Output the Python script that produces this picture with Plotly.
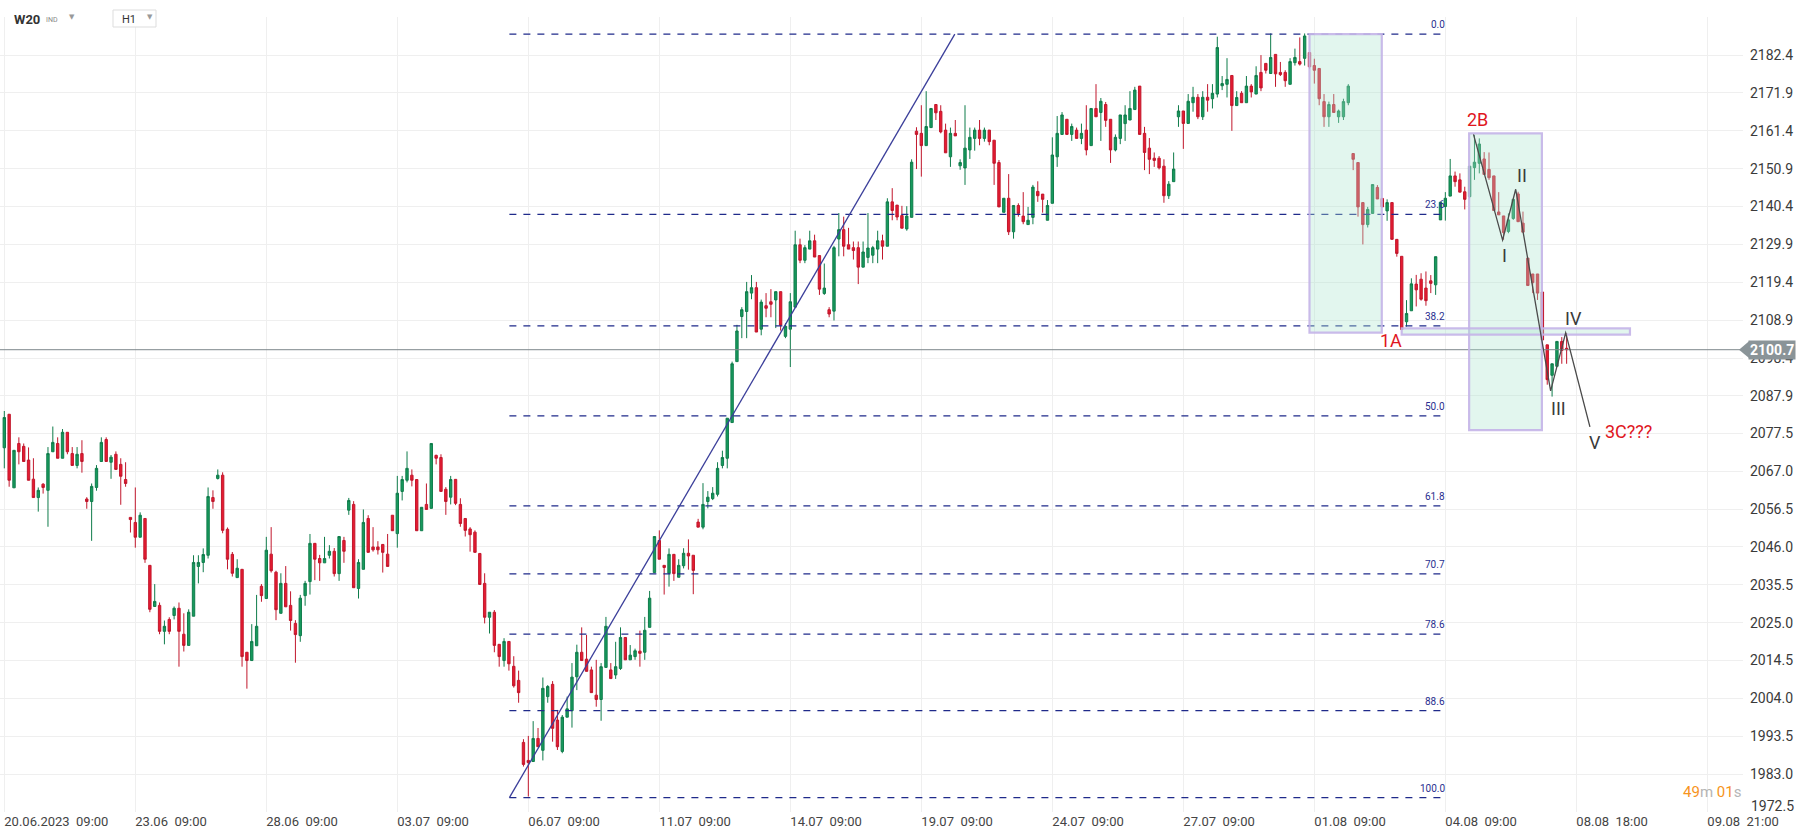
import plotly.graph_objects as go

# ---------------- data ----------------
opens = [
2073.5,2082.8,2062.4,2074.7,2073.9,2070.1,2064.8,2059.7,2063.4,2061.7,2072.4,2074.7,2070.6,2077.8,2071.9,2068.6,2071.9,
2059.3,2058.6,2062.5,2069.7,2075.8,2069.5,2071.7,2068.9,2064.7,2054.2,2052.8,2048.7,2053.9,2040.9,2029.5,2029.8,2022.6,
2025.9,2027.0,2029.0,2021.8,2018.7,2026.8,2040.6,2041.7,2043.7,2059.7,2065.0,2065.9,2050.9,2043.95,2037.5,2039.8,2016.8,
2014.5,2018.6,2035.1,2031.7,2044.0,2039.0,2027.6,2035.9,2029.8,2024.8,2021.4,2032.5,2036.4,2047.0,2042.8,2041.6,2043.7,
2044.8,2038.6,2047.8,2056.2,2057.8,2034.5,2039.8,2053.9,2046.0,2046.0,2046.7,2044.0,2054.8,2049.7,2061.4,2064.5,2065.9,
2064.7,2050.5,2057.8,2056.7,2071.4,2070.8,2062.0,2059.8,2064.75,2057.8,2053.9,2051.0,2050.1,2044.2,2035.9,2026.5,2027.9,
2019.0,2014.5,2019.8,2012.9,2009.0,1991.8,1986.8,1986.5,1992.9,1989.6,2004.5,2007.9,1998.0,1989.3,1998.8,2000.6,2010.0,
2016.8,2014.9,2011.9,2004.9,2003.7,2012.6,2011.9,2010.5,2012.3,2020.9,2014.7,2015.6,2017.1,2016.8,2023.7,2038.9,2047.8,
2040.9,2038.7,2043.95,2037.6,2040.8,2044.25,2043.7,2052.9,2051.5,2058.6,2059.4,2060.6,2068.6,2070.6,2080.5,2097.4,2109.9,
2111.3,2116.4,2117.9,2106.4,2112.9,2114.0,2114.5,2116.8,2104.4,2106.4,2112.5,2129.8,2125.5,2128.6,2130.9,2126.8,2116.3,
2111.8,2111.4,2131.4,2134.0,2129.8,2129.0,2129.0,2123.6,2126.3,2126.9,2128.6,2130.9,2129.4,2141.7,2140.8,2137.9,2134.2,
2137.4,2161.3,2160.7,2157.3,2162.3,2168.7,2166.8,2161.6,2154.2,2160.7,2151.7,2151.1,2156.1,2159.3,2161.6,2159.3,2161.6,
2158.8,2152.6,2138.8,2142.7,2133.4,2140.7,2137.75,2135.4,2137.4,2144.6,2143.85,2136.6,2141.3,2154.2,2160.4,2164.6,2160.4,
2161.6,2159.3,2161.6,2157.3,2167.6,2166.5,2168.7,2164.6,2156.1,2159.3,2163.4,2164.4,2167.3,2173.8,2160.7,2156.6,2153.8,
2153.8,2151.6,2143.4,2147.3,2165.3,2166.9,2163.45,2169.2,2170.7,2165.3,2170.7,2170.3,2171.6,2173.9,2174.3,2176.75,2168.4,
2171.8,2169.2,2173.8,2171.6,2177.6,2180.1,2177.3,2182.6,2177.6,2177.6,2174.3,2180.3,2180.6,2181.5,2183.1,2179.5,2178.7,
2169.5,2165.3,2168.7,2165.3,2165.3,2169.2,2155.1,2152.6,2141.5,2135.4,2138.5,2145.7,2142.65,2139.2,2141.5,2131.3,2126.6,
2108.45,2111.5,2118.9,2120.25,2117.8,2119.8,2118.7,2136.7,2140.4,2143.3,2148.9,2147.8,2144.5,2143.15,2151.2,2152.4,2153.6,
2150.7,2148.9,2138.9,2137.8,2133.5,2137.1,2143.9,2135.8,2126.1,2121.7,2121.7,2116.7,2102.05,2093.6,2096.1,2103.0,2101.1]
highs = [
2083.7,2082.8,2072.8,2076.4,2074.7,2073.6,2070.6,2062.5,2063.7,2073.7,2079.4,2076.4,2078.7,2077.8,2073.7,2073.7,2075.6,
2059.8,2063.6,2068.7,2076.4,2076.4,2071.5,2072.5,2070.6,2069.5,2054.2,2062.5,2055.6,2053.9,2040.9,2035.7,2030.6,2025.6,
2026.5,2029.5,2030.6,2027.6,2028.7,2043.7,2043.7,2045.6,2062.5,2061.7,2067.5,2066.7,2051.4,2044.6,2042.6,2039.8,2016.8,
2024.6,2032.7,2035.7,2048.8,2051.5,2039.4,2038.7,2040.7,2033.7,2025.7,2032.7,2036.6,2049.6,2047.0,2043.8,2048.8,2046.5,
2045.7,2048.9,2048.8,2059.6,2058.7,2042.6,2056.4,2054.8,2051.5,2047.6,2046.7,2049.6,2054.8,2065.7,2065.7,2072.5,2067.5,
2064.7,2057.0,2063.6,2074.7,2071.6,2071.7,2062.6,2065.7,2064.75,2059.5,2053.9,2051.5,2050.6,2044.2,2038.7,2027.9,2028.5,
2019.0,2020.7,2019.8,2015.7,2011.7,1992.7,1993.6,1997.7,1995.8,2009.8,2007.7,2008.8,2000.8,1999.4,2004.5,2013.8,2018.9,
2023.7,2021.6,2012.8,2014.7,2013.8,2026.6,2013.8,2019.7,2023.7,2020.9,2018.8,2017.8,2022.8,2026.6,2033.8,2048.9,2050.6,
2040.9,2045.6,2043.95,2042.6,2045.65,2048.1,2043.7,2053.8,2063.7,2061.5,2062.6,2069.5,2072.7,2081.7,2097.4,2107.6,2112.5,
2119.5,2121.4,2119.5,2114.6,2116.4,2117.5,2116.8,2116.8,2108.1,2116.4,2133.7,2131.5,2129.7,2133.7,2132.6,2126.8,2124.6,
2112.5,2129.5,2138.6,2137.6,2134.5,2130.7,2130.7,2130.7,2138.6,2129.5,2133.7,2132.6,2142.7,2145.5,2140.8,2140.6,2140.5,
2153.5,2162.4,2168.5,2172.4,2167.6,2168.7,2168.5,2163.4,2162.3,2164.4,2153.5,2168.5,2162.3,2162.3,2164.4,2162.3,2161.6,
2158.8,2153.3,2142.7,2149.4,2140.7,2141.3,2144.4,2140.3,2146.4,2147.4,2143.85,2142.2,2159.6,2165.5,2166.6,2164.6,2163.4,
2162.3,2163.4,2168.5,2167.6,2174.35,2170.5,2169.4,2164.6,2160.4,2165.8,2168.5,2172.4,2173.6,2173.8,2162.5,2159.4,2155.4,
2154.4,2153.5,2147.45,2155.4,2168.5,2166.9,2171.6,2173.6,2171.6,2172.4,2174.35,2174.35,2187.5,2176.6,2181.55,2176.75,2172.4,
2172.4,2176.6,2174.35,2179.3,2182.4,2180.1,2188.4,2182.6,2180.5,2178.2,2181.55,2184.2,2187.3,2188.4,2183.1,2181.4,2178.7,
2171.6,2169.5,2171.6,2167.3,2170.3,2174.35,2155.1,2152.6,2141.5,2140.3,2146.5,2146.35,2142.65,2142.4,2141.5,2131.3,2126.6,
2114.45,2120.5,2121.45,2121.9,2122.4,2121.4,2126.5,2141.6,2144.4,2153.6,2150.1,2149.6,2145.9,2151.6,2160.2,2159.3,2155.5,
2155.4,2148.9,2144.4,2137.8,2138.5,2142.4,2144.5,2139.0,2126.1,2121.7,2121.7,2116.7,2102.05,2096.8,2103.0,2104.2,2105.3]
lows = [
2067.8,2062.7,2062.4,2068.9,2069.7,2064.5,2059.7,2055.8,2060.8,2051.6,2072.4,2070.6,2070.6,2071.7,2068.6,2067.8,2066.6,
2056.6,2047.7,2061.6,2069.7,2069.7,2064.9,2067.5,2057.7,2062.7,2050.0,2045.8,2048.7,2041.6,2027.9,2029.5,2021.8,2019.0,
2021.8,2025.9,2012.8,2017.0,2018.7,2026.8,2035.9,2039.0,2042.8,2056.6,2064.7,2049.8,2039.8,2037.8,2037.5,2012.8,2006.7,
2014.5,2018.6,2030.8,2031.7,2038.9,2025.7,2027.6,2029.4,2022.8,2013.9,2019.7,2029.7,2032.8,2036.8,2036.6,2041.6,2042.8,
2037.8,2036.6,2041.6,2054.9,2034.7,2031.7,2039.8,2044.5,2044.7,2043.9,2038.9,2040.6,2050.5,2045.8,2058.9,2063.9,2062.8,
2050.5,2050.5,2056.4,2056.7,2068.9,2061.4,2054.9,2057.8,2057.6,2051.6,2048.9,2044.7,2044.5,2035.6,2024.8,2022.0,2016.8,
2012.8,2012.8,2011.7,2007.0,2002.8,1985.1,1976.8,1986.5,1990.6,1986.8,2002.8,1992.0,1989.7,1988.8,1998.8,1995.9,2006.3,
2014.5,2011.5,2005.6,2001.7,1997.8,2012.6,2009.5,2009.4,2011.9,2014.7,2014.7,2014.7,2012.8,2014.7,2023.7,2038.9,2042.6,
2032.8,2035.0,2036.6,2037.6,2040.05,2039.7,2032.9,2051.5,2050.9,2056.7,2059.0,2060.0,2067.8,2067.8,2080.5,2097.4,2103.9,
2103.9,2114.7,2105.6,2104.7,2109.7,2109.7,2106.7,2106.0,2103.9,2095.9,2112.5,2124.7,2124.7,2128.6,2126.4,2115.9,2115.9,
2109.7,2108.8,2126.6,2126.6,2128.6,2125.7,2118.9,2123.6,2124.7,2124.7,2124.7,2125.7,2129.4,2136.6,2136.6,2134.4,2133.7,
2137.4,2150.8,2148.7,2157.3,2162.3,2164.4,2160.7,2155.3,2151.4,2160.0,2150.6,2146.4,2153.6,2155.9,2157.4,2158.4,2157.4,
2146.4,2140.3,2138.8,2132.5,2131.5,2137.6,2135.5,2135.4,2135.5,2141.7,2138.7,2136.6,2141.3,2151.4,2160.4,2160.4,2158.6,
2159.3,2157.7,2154.6,2157.3,2165.3,2158.6,2162.5,2152.5,2155.7,2157.7,2158.6,2164.4,2167.3,2160.4,2150.5,2149.4,2151.4,
2150.7,2141.45,2142.5,2147.3,2162.5,2156.4,2163.45,2166.7,2164.65,2164.4,2166.7,2167.6,2170.65,2172.7,2170.65,2161.4,2168.4,
2169.2,2169.2,2170.65,2171.6,2172.4,2177.3,2177.3,2173.6,2176.6,2173.6,2174.3,2179.5,2179.5,2179.5,2178.6,2174.5,2168.5,
2162.5,2162.5,2166.5,2163.6,2164.4,2168.5,2150.5,2137.6,2129.9,2134.6,2138.5,2142.5,2140.3,2136.45,2131.3,2126.5,2106.3,
2107.1,2111.5,2112.7,2114.3,2112.9,2116.4,2115.9,2136.7,2136.5,2143.3,2145.9,2144.4,2139.6,2142.7,2147.8,2149.6,2149.3,
2147.8,2139.3,2138.1,2131.2,2133.0,2136.7,2136.2,2133.3,2118.5,2116.4,2114.5,2103.4,2091.0,2087.7,2096.1,2096.8,2096.8]
closes = [
2081.9,2064.5,2072.8,2072.4,2069.7,2064.5,2059.7,2061.7,2062.5,2071.9,2075.0,2070.6,2077.8,2072.4,2068.6,2071.7,2069.7,
2058.6,2062.8,2067.8,2075.0,2069.7,2070.9,2067.5,2065.6,2063.6,2053.6,2048.7,2054.8,2042.6,2028.7,2030.9,2022.6,2024.0,
2022.6,2029.0,2022.6,2018.7,2027.9,2041.7,2041.7,2043.9,2060.0,2058.6,2065.9,2050.6,2042.6,2038.7,2040.1,2015.6,2014.5,
2019.8,2024.0,2032.5,2045.1,2039.4,2028.6,2035.9,2029.4,2025.6,2021.7,2031.8,2035.9,2047.0,2042.6,2041.6,2042.8,2044.8,
2038.6,2048.9,2044.8,2058.9,2034.7,2041.7,2052.8,2044.5,2045.2,2045.2,2044.5,2040.6,2050.5,2060.9,2064.7,2067.8,2064.5,
2050.5,2057.0,2056.4,2074.7,2070.6,2061.4,2058.6,2064.7,2058.1,2052.5,2050.6,2049.4,2044.5,2035.6,2026.5,2027.9,2018.7,
2015.6,2019.8,2013.6,2007.5,2005.6,1985.7,1986.2,1992.9,1990.6,2006.8,2007.3,1995.7,1990.6,1998.8,2001.1,2009.9,2016.8,
2014.5,2011.5,2005.6,2003.7,2012.8,2024.0,2009.5,2012.8,2020.9,2014.7,2016.0,2017.2,2016.5,2022.9,2031.8,2048.9,2042.6,
2040.3,2043.95,2038.6,2040.9,2044.25,2043.5,2039.5,2051.5,2057.8,2059.8,2060.9,2067.8,2070.8,2081.7,2096.8,2105.9,2111.8,
2116.8,2117.9,2105.6,2113.9,2112.2,2113.3,2116.8,2107.5,2107.2,2114.0,2129.8,2125.5,2129.0,2130.9,2126.4,2117.5,2117.8,
2110.6,2129.0,2134.0,2129.4,2128.6,2128.2,2123.6,2127.8,2128.9,2129.0,2130.9,2129.4,2141.7,2139.3,2137.5,2134.4,2137.75,
2152.7,2160.4,2157.3,2162.6,2167.6,2166.4,2161.1,2155.3,2160.7,2160.0,2152.6,2156.6,2159.6,2161.6,2159.3,2161.6,2158.4,
2152.4,2140.3,2142.7,2133.4,2140.7,2138.5,2136.2,2136.6,2145.8,2143.4,2142.4,2140.7,2154.7,2160.7,2165.8,2160.4,2162.6,
2159.3,2160.7,2156.1,2167.6,2165.3,2169.6,2164.3,2156.1,2159.6,2165.8,2165.8,2167.6,2172.7,2160.4,2155.4,2153.5,2153.2,
2151.15,2143.4,2146.6,2150.8,2166.9,2163.45,2169.6,2170.7,2165.3,2170.7,2169.9,2171.8,2184.5,2174.5,2175.65,2168.4,2170.65,
2169.2,2173.8,2172.2,2176.75,2173.3,2178.2,2181.75,2177.2,2177.0,2175.3,2180.6,2181.75,2179.9,2187.7,2179.15,2178.2,2170.3,
2165.3,2168.7,2166.5,2166.9,2169.5,2173.8,2153.5,2140.3,2135.4,2139.6,2146.5,2142.5,2140.3,2141.5,2131.3,2127.4,2106.3,
2110.75,2118.96,2117.3,2114.7,2114.3,2119.1,2126.5,2141.6,2142.7,2148.9,2147.3,2144.4,2142.4,2151.6,2152.7,2157.75,2149.3,
2148.4,2139.3,2138.1,2133.2,2136.7,2142.4,2136.2,2133.3,2118.5,2119.3,2116.4,2103.4,2092.4,2096.8,2103.0,2100.5,2100.7]
bar_index = list(range(len(opens)))

x_tick_vals = [0, 27, 54, 81, 108, 135, 162, 189, 216, 243, 270, 297, 324, 351]
x_tick_text = ["20.06.2023  09:00", "23.06  09:00", "28.06  09:00", "03.07  09:00", "06.07  09:00",
               "11.07  09:00", "14.07  09:00", "19.07  09:00", "24.07  09:00", "27.07  09:00",
               "01.08  09:00", "04.08  09:00", "08.08  18:00", "09.08  21:00"]
y_tick_vals = [1972.5, 1983.0, 1993.5, 2004.0, 2014.5, 2025.0, 2035.5, 2046.0, 2056.5, 2067.0, 2077.5,
               2087.9, 2098.4, 2108.9, 2119.4, 2129.9, 2140.4, 2150.9, 2161.4, 2171.9, 2182.4]

fib_high = 2188.2
fib_low = 1976.5
fib_start, fib_end = 104.1, 297.4
fib_ratios = [0.0, 0.236, 0.382, 0.5, 0.618, 0.707, 0.786, 0.886, 1.0]
fib_labels = ["0.0", "23.6", "38.2", "50.0", "61.8", "70.7", "78.6", "88.6", "100.0"]

trend_x = [104.1, 195.9]
trend_y = [1976.5, 2188.2]

wave_x = [302.8, 308.8, 311.5, 318.7, 321.8, 326.8]
wave_y = [2160.4, 2131.1, 2145.2, 2089.3, 2105.4, 2079.3]

boxes = [  # x0, x1, y0, y1
    (269.0, 283.9, 2105.45, 2188.2),
    (301.9, 316.9, 2078.4, 2160.7),
    (288.0, 335.05, 2104.9, 2106.6),
]

wave_labels = [  # text, x, y, color
    ("1A", 285.9, 2103.2, "#e0161e"),
    ("2B", 303.7, 2164.6, "#e0161e"),
    ("I", 309.2, 2126.7, "#3a3a3a"),
    ("II", 312.8, 2148.9, "#3a3a3a"),
    ("III", 320.4, 2084.4, "#3a3a3a"),
    ("IV", 323.5, 2109.3, "#3a3a3a"),
    ("V", 327.8, 2074.9, "#3a3a3a"),
    ("3C???", 334.8, 2078.0, "#e0161e"),
]

last_price = 2100.7

# ---------------- figure ----------------
W, H = 1811, 837
ML, MR, MT, MB = 0, 68, 17, 25
PW = W - ML - MR
PH = H - MT - MB

fig = go.Figure()
fig.add_trace(go.Candlestick(
    x=bar_index, open=opens, high=highs, low=lows, close=closes,
    increasing=dict(line=dict(color="#0f7c4b", width=1), fillcolor="#179a5d"),
    decreasing=dict(line=dict(color="#c1172c", width=1), fillcolor="#e61b31"),
    whiskerwidth=0, showlegend=False, hoverinfo="skip"))

shapes = []
# current price line
shapes.append(dict(type="line", xref="paper", x0=0, x1=1, yref="y", y0=last_price, y1=last_price,
                   line=dict(color="#7d878b", width=1), layer="above"))
# fib levels
fib_rng = fib_high - fib_low
for r in fib_ratios:
    lv = fib_high - r * fib_rng
    shapes.append(dict(type="line", xref="x", yref="y", x0=fib_start, x1=fib_end, y0=lv, y1=lv,
                       line=dict(color="#1f2a8a", width=1.3, dash="7px,7px"), layer="above"))
# trend line
shapes.append(dict(type="line", xref="x", yref="y", x0=trend_x[0], x1=trend_x[1], y0=trend_y[0], y1=trend_y[1],
                   line=dict(color="#3b3f9a", width=1.3), layer="above"))
# boxes
for (bx0, bx1, by0, by1) in boxes:
    shapes.append(dict(type="rect", xref="x", yref="y", x0=bx0, x1=bx1, y0=by0, y1=by1,
                       fillcolor="rgba(172,229,206,0.35)", line=dict(color="rgba(196,180,232,0.9)", width=2.2),
                       layer="above"))
# elliott wave polyline
wave_path = "M " + " L ".join(f"{wx},{wy}" for wx, wy in zip(wave_x, wave_y))
shapes.append(dict(type="path", xref="x", yref="y", path=wave_path,
                   line=dict(color="#4a4a4a", width=1.3), layer="above"))
# price tag arrow
shapes.append(dict(type="path", xref="paper", xsizemode="pixel", xanchor=1, yref="y", ysizemode="pixel",
                   yanchor=last_price, path="M -4,0 L 6,8.4 L 6,-8.4 Z", fillcolor="#8a9498",
                   line=dict(width=0), layer="above"))
# header H1 box
shapes.append(dict(type="rect", xref="paper", yref="paper", x0=113 / PW, x1=156 / PW,
                   y0=(PH + MT - 27) / PH, y1=(PH + MT - 10) / PH,
                   line=dict(color="#dddddd", width=1), fillcolor="white", layer="above"))

ann = []
for r, t in zip(fib_ratios, fib_labels):
    lv = fib_high - r * fib_rng
    ann.append(dict(x=fib_end, y=lv, xref="x", yref="y", text=t, showarrow=False, xanchor="right",
                    yanchor="bottom", yshift=2, font=dict(size=10, color="#2a2f8f", family="Roboto")))
for t, ax, ay, col in wave_labels:
    ann.append(dict(x=ax, y=ay, xref="x", yref="y", text=t, showarrow=False, xanchor="center",
                    yanchor="middle", font=dict(size=18, color=col, family="Roboto")))
# bottom y label lifted above the date row
ann.append(dict(x=1, y=y_tick_vals[0], xref="paper", yref="y", text=f"{y_tick_vals[0]:.1f}", showarrow=False,
                xanchor="left", yanchor="middle", xshift=6, yshift=6,
                font=dict(size=14, color="#3a3a3a", family="Roboto")))
# price tag
ann.append(dict(x=1, y=last_price, xref="paper", yref="y", text="<b>2100.7</b>", showarrow=False,
                xanchor="left", yanchor="middle", xshift=5, bgcolor="#8a9498", borderpad=1,
                font=dict(size=14, color="white", family="Roboto")))
# countdown
ann.append(dict(x=1, y=20 / PH, xref="paper", yref="paper", showarrow=False, xanchor="right", yanchor="middle",
                text="<span style='color:#f7941d'>49</span><span style='color:#b5b5b5'>m</span> "
                     "<span style='color:#f7941d'>01</span><span style='color:#b5b5b5'>s</span>",
                font=dict(size=15, family="Roboto")))
# header
hy = (PH + MT - 19) / PH
ann.append(dict(x=12 / PW, y=hy, xref="paper", yref="paper", text="<b>W20</b>", showarrow=False,
                xanchor="left", yanchor="middle", font=dict(size=13, color="#333333", family="Roboto")))
ann.append(dict(x=44 / PW, y=hy - 0.001, xref="paper", yref="paper", text="IND", showarrow=False,
                xanchor="left", yanchor="middle", font=dict(size=7, color="#888888", family="Roboto")))
ann.append(dict(x=67 / PW, y=hy + 0.002, xref="paper", yref="paper", text="▼", showarrow=False,
                xanchor="left", yanchor="middle", font=dict(size=7, color="#999999", family="DejaVu Sans")))
ann.append(dict(x=120 / PW, y=hy, xref="paper", yref="paper", text="H1", showarrow=False,
                xanchor="left", yanchor="middle", font=dict(size=11, color="#333333", family="Roboto")))
ann.append(dict(x=145 / PW, y=hy + 0.002, xref="paper", yref="paper", text="▼", showarrow=False,
                xanchor="left", yanchor="middle", font=dict(size=7, color="#999999", family="DejaVu Sans")))

x_lo = -4.3 / 4.852
x_hi = x_lo + PW / 4.852
y_lo = 1972.5
y_hi = y_lo + PH / 3.606

fig.update_layout(
    width=W, height=H, margin=dict(l=ML, r=MR, t=MT, b=MB),
    paper_bgcolor="white", plot_bgcolor="white",
    font=dict(family="Roboto", color="#333333"),
    shapes=shapes, annotations=ann, showlegend=False,
    xaxis=dict(range=[x_lo, x_hi], tickvals=x_tick_vals,
               ticktext=[t.replace(" ", "\u00a0") for t in x_tick_text],
               ticklabelposition="outside right", showgrid=True, gridcolor="#efefef", gridwidth=1,
               zeroline=False, showline=False, ticks="", tickfont=dict(size=13, color="#444444"),
               rangeslider=dict(visible=False), fixedrange=True),
    yaxis=dict(range=[y_lo, y_hi], side="right", tickvals=y_tick_vals,
               ticktext=[""] + [f"{v:.1f}" for v in y_tick_vals[1:]], showgrid=True, gridcolor="#efefef",
               gridwidth=1, zeroline=False, showline=False, ticks="", ticklabelstandoff=6,
               tickfont=dict(size=14, color="#3a3a3a"), fixedrange=True),
)

fig.write_html("out.html", config={"displayModeBar": False},
               post_script="document.body.style.margin='0';document.body.style.overflow='hidden';")
